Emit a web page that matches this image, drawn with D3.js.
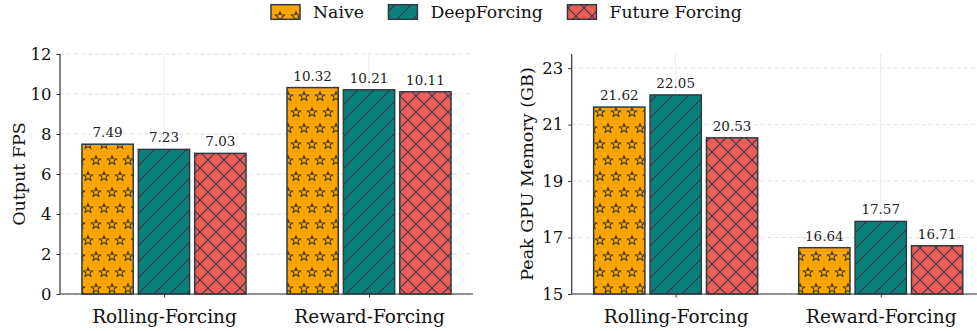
<!DOCTYPE html>
<html>
<head>
<meta charset="utf-8">
<script src="https://cdn.jsdelivr.net/npm/d3@7"></script>
<style>
  html, body { margin: 0; padding: 0; background: #fff; }
  svg { display: block; font-family: "DejaVu Serif", serif; }
</style>
</head>
<body>
<svg id="chart" width="977" height="331"></svg>
<script>
// ---- data ----
const categories = ["Rolling-Forcing", "Reward-Forcing"];
const methods = ["Naive", "DeepForcing", "Future Forcing"];
const fpsNaive = [7.49, 10.32];
const fpsDeep = [7.23, 10.21];
const fpsFuture = [7.03, 10.11];
const memNaive = [21.62, 16.64];
const memDeep = [22.05, 17.57];
const memFuture = [20.53, 16.71];
const fpsTicks = [0, 2, 4, 6, 8, 10, 12];
const memTicks = [15, 17, 19, 21, 23];

const colors = ["#ffa500", "#0b7f7b", "#ee5c57"];
const hatches = ["stars", "diag", "cross"];
const edge = "#2f3a44";

const svg = d3.select("#chart");
const defs = svg.append("defs");

// hatch patterns
const hc = "#2f3a44";
{
  const p = defs.append("pattern").attr("id", "stars").attr("patternUnits", "userSpaceOnUse")
    .attr("width", 16).attr("height", 32);
  const star = (cx, cy, R, r) => {
    const pts = [];
    for (let i = 0; i < 10; i++) {
      const a = -Math.PI / 2 + i * Math.PI / 5;
      const rr = i % 2 === 0 ? R : r;
      pts.push([cx + rr * Math.cos(a), cy + rr * Math.sin(a)]);
    }
    return "M" + pts.map(q => q.join(",")).join("L") + "Z";
  };
  const centers = [[0, 0], [16, 0], [0, 32], [16, 32], [8, 16]];
  centers.forEach(c => {
    p.append("path").attr("d", star(c[0], c[1] + 0.5, 4.8, 2.1))
      .attr("fill", "none").attr("stroke", hc).attr("stroke-width", 1.1).attr("stroke-linejoin", "miter");
  });
}
{
  const p = defs.append("pattern").attr("id", "diag").attr("patternUnits", "userSpaceOnUse")
    .attr("width", 16).attr("height", 16);
  p.append("path").attr("d", "M-4,4L4,-4M0,16L16,0M12,20L20,12")
    .attr("stroke", hc).attr("stroke-width", 1.1).attr("fill", "none");
}
{
  const p = defs.append("pattern").attr("id", "cross").attr("patternUnits", "userSpaceOnUse")
    .attr("width", 16).attr("height", 16);
  p.append("path").attr("d", "M-4,4L4,-4M0,16L16,0M12,20L20,12M-4,12L4,20M0,0L16,16M12,-4L20,4")
    .attr("stroke", hc).attr("stroke-width", 1.1).attr("fill", "none");
}

const H0 = 294, H1 = 54;

function panel(opts) {
  const { left, yDomain, ticks, series, ylabel, ylabelX } = opts;
  const x = d3.scaleLinear().domain([-0.507, 1.507]).range([left, left + 413]);
  const y = d3.scaleLinear().domain(yDomain).range([H0, H1]);
  const g = svg.append("g");

  // grid
  g.append("g").selectAll("line").data(ticks).join("line")
    .attr("x1", x(-0.507)).attr("x2", x(1.507))
    .attr("y1", d => y(d)).attr("y2", d => y(d))
    .attr("stroke", "#dcdcdc").attr("stroke-width", 0.9).attr("stroke-dasharray", "4,3");
  g.append("g").selectAll("line").data(categories).join("line")
    .attr("x1", (d, i) => x(i)).attr("x2", (d, i) => x(i))
    .attr("y1", H1).attr("y2", H0)
    .attr("stroke", "#e6e9ee").attr("stroke-width", 1);

  // bars
  const offsets = [-0.275, 0, 0.275];
  const bw = 0.25;
  series.forEach((vals, si) => {
    const bars = g.append("g");
    vals.forEach((v, ci) => {
      const x0 = x(ci + offsets[si] - bw / 2), x1 = x(ci + offsets[si] + bw / 2);
      bars.append("rect").attr("x", x0).attr("y", y(v)).attr("width", x1 - x0).attr("height", y(yDomain[0]) - y(v))
        .attr("fill", colors[si]);
      bars.append("rect").attr("x", x0).attr("y", y(v)).attr("width", x1 - x0).attr("height", y(yDomain[0]) - y(v))
        .attr("fill", `url(#${hatches[si]})`).attr("stroke", edge).attr("stroke-width", 1.5);
      bars.append("text").attr("x", (x0 + x1) / 2).attr("y", y(v) - 7)
        .attr("text-anchor", "middle").attr("font-size", 13.5).attr("fill", "#222")
        .text(v.toFixed(2));
    });
  });

  // axes
  const yAxis = d3.axisLeft(y).tickValues(ticks).tickSize(3.5).tickPadding(5).tickFormat(d3.format("d"));
  const ya = g.append("g").attr("transform", `translate(${left},0)`).call(yAxis);
  const xAxis = d3.axisBottom(x).tickValues([0, 1]).tickSize(3.5).tickPadding(12)
    .tickFormat(i => categories[i]);
  const xa = g.append("g").attr("transform", `translate(0,${H0})`).call(xAxis);
  [ya, xa].forEach(a => {
    a.select(".domain").attr("stroke", "#333").attr("stroke-width", 1.2);
    a.selectAll(".tick line").attr("stroke", "#333").attr("stroke-width", 1);
    a.selectAll(".tick text").attr("font-family", "DejaVu Serif").attr("fill", "#111");
  });
  ya.selectAll(".tick text").attr("font-size", 16.5);
  xa.selectAll(".tick text").attr("font-size", 18.5);
  ya.select(".domain").attr("d", `M0,${H1}V${H0}`);
  xa.select(".domain").attr("d", `M${x(-0.507)},0H${x(1.507)}`);

  g.append("text").attr("transform", `translate(${ylabelX},${(H0 + H1) / 2}) rotate(-90)`)
    .attr("text-anchor", "middle").attr("font-size", 17.5).attr("fill", "#111").text(ylabel);
}

panel({ left: 60, yDomain: [0, 12], ticks: fpsTicks, series: [fpsNaive, fpsDeep, fpsFuture],
  ylabel: "Output FPS", ylabelX: 24.5 });
panel({ left: 571.7, yDomain: [15, 23.5], ticks: memTicks, series: [memNaive, memDeep, memFuture],
  ylabel: "Peak GPU Memory (GB)", ylabelX: 532.5 });

// legend
const lg = svg.append("g");
let lx = 271;
methods.forEach((m, i) => {
  lg.append("rect").attr("x", lx).attr("y", 4.7).attr("width", 29).attr("height", 14.6).attr("fill", colors[i]);
  lg.append("rect").attr("x", lx).attr("y", 4.7).attr("width", 29).attr("height", 14.6)
    .attr("fill", `url(#${hatches[i]})`).attr("stroke", edge).attr("stroke-width", 1.5);
  const t = lg.append("text").attr("x", lx + 42).attr("y", 18.3).attr("font-size", 17.3).attr("fill", "#111").text(m);
  lx += 42 + t.node().getComputedTextLength() + 24.5;
});
</script>
</body>
</html>
